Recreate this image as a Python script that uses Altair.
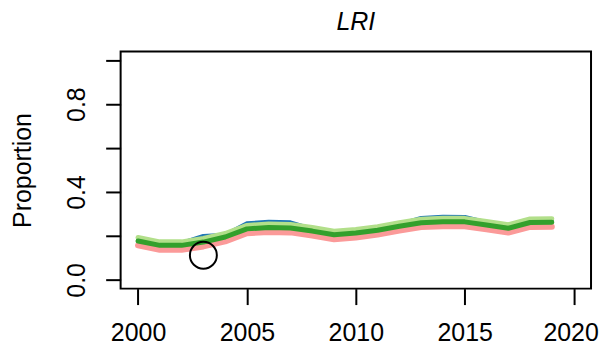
import altair as alt
import pandas as pd

years = list(range(2000, 2020))
blue_vals = [0.187, 0.167, 0.168, 0.200, 0.205, 0.258, 0.264, 0.262, 0.232, 0.215,
             0.223, 0.236, 0.254, 0.282, 0.287, 0.286, 0.262, 0.245, 0.271, 0.272]
green_vals = [0.177, 0.157, 0.157, 0.172, 0.195, 0.232, 0.238, 0.236, 0.222, 0.205,
              0.213, 0.226, 0.244, 0.260, 0.264, 0.264, 0.250, 0.235, 0.261, 0.262]
light_vals = [0.193, 0.173, 0.173, 0.188, 0.211, 0.248, 0.254, 0.252, 0.238, 0.221,
              0.229, 0.242, 0.260, 0.276, 0.280, 0.280, 0.266, 0.251, 0.277, 0.278]
pink_vals = [0.157, 0.137, 0.137, 0.152, 0.175, 0.212, 0.218, 0.216, 0.202, 0.185,
             0.193, 0.206, 0.224, 0.240, 0.244, 0.244, 0.230, 0.215, 0.241, 0.242]
circle_year = [2003]
circle_val = [0.112]
title_text = ["LRI"]

x_ticks = [2000, 2005, 2010, 2015, 2020]
y_ticks = [0.0, 0.2, 0.4, 0.6, 0.8, 1.0]

FONT = "Liberation Sans"
FS = 25

x_axis = alt.Axis(values=x_ticks, format="d", tickSize=16, tickWidth=2, tickColor="black",
                  domain=False, grid=False, labelFontSize=FS, labelFont=FONT,
                  labelColor="black", labelBaseline="alphabetic", labelPadding=36,
                  labelOffset={"condition": {"test": "datum.value == 2020", "value": -3},
                               "value": 0},
                  labelFlush=False, labelOverlap=False, title=None)
y_axis = alt.Axis(values=y_ticks, tickSize=15, tickWidth=2, tickColor="black",
                  domain=False, grid=False, labelFontSize=FS, labelFont=FONT,
                  labelColor="black", labelAngle=270, labelAlign="center",
                  labelBaseline="alphabetic", labelPadding=21, labelFlush=False,
                  labelOverlap=False,
                  labelExpr="(abs(datum.value) < 1e-6 || abs(datum.value-0.4) < 1e-6 || abs(datum.value-0.8) < 1e-6) ? format(datum.value, '.1f') : ''",
                  title="Proportion", titleAngle=270, titleX=-90, titleY=119,
                  titleAlign="center", titleBaseline="alphabetic", titleFontSize=FS,
                  titleFont=FONT, titleFontWeight="normal", titleColor="black")

x_scale = alt.Scale(domain=[1999.2, 2020.8], nice=False, zero=False)
y_scale = alt.Scale(domain=[-0.04, 1.04], nice=False, zero=False)


def line_layer(vals, color, width):
    df = pd.DataFrame({"year": years, "value": vals})
    return alt.Chart(df).mark_line(color=color, strokeWidth=width, strokeCap="round",
                                   strokeJoin="round").encode(
        x=alt.X("year:Q", scale=x_scale, axis=x_axis),
        y=alt.Y("value:Q", scale=y_scale, axis=y_axis),
    )


circle_df = pd.DataFrame({"year": circle_year, "value": circle_val})
circle = alt.Chart(circle_df).mark_point(shape="circle", filled=False, color="black",
                                         strokeWidth=2, size=730, opacity=1).encode(
    x=alt.X("year:Q", scale=x_scale, axis=x_axis),
    y=alt.Y("value:Q", scale=y_scale, axis=y_axis),
)

title = alt.Chart(pd.DataFrame({"t": title_text})).mark_text(
    font=FONT, fontSize=FS, fontStyle="italic", color="black",
    align="center", baseline="alphabetic"
).encode(text="t:N", x=alt.value(236), y=alt.value(-22))

chart = alt.layer(
    line_layer(blue_vals, "#1f78b4", 4),
    line_layer(pink_vals, "#fb9a99", 6),
    line_layer(light_vals, "#b2df8a", 5),
    line_layer(green_vals, "#33a02c", 5),
    circle,
    title,
).properties(
    width=472, height=238,
    autosize=alt.AutoSizeParams(type="none"),
    padding={"left": 113, "top": 43, "right": 8, "bottom": 58},
).configure_view(stroke="black", strokeWidth=2)

chart.save("out.html", embed_options={"renderer": "svg", "actions": False})
